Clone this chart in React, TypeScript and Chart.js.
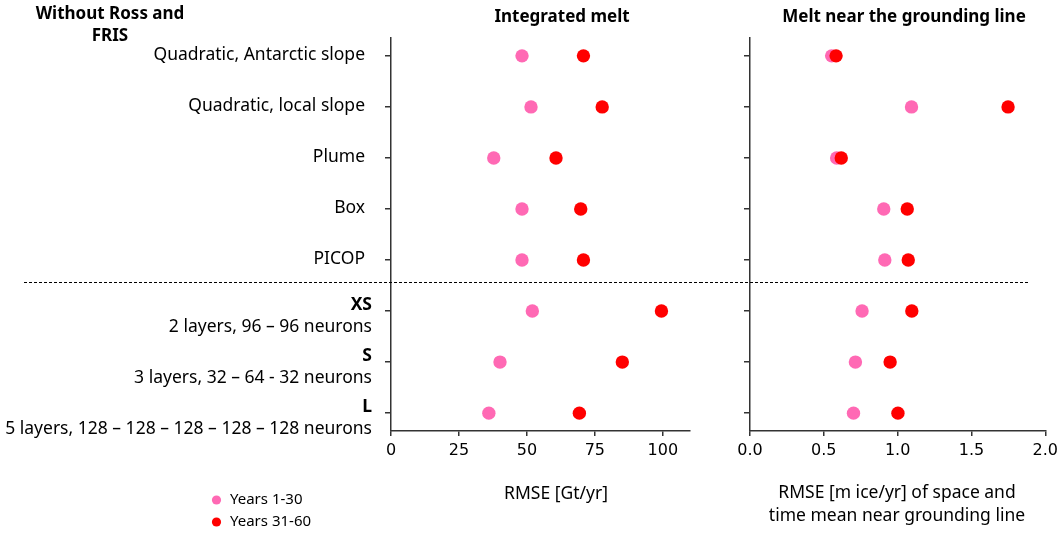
import React, { useEffect, useRef } from 'react';
import { Chart, registerables } from 'chart.js';

Chart.register(...registerables);

// ---------- data ----------
const rowBold = ['', '', '', '', '', 'XS', 'S', 'L'];
const rowLabels = [
  'Quadratic, Antarctic slope',
  'Quadratic, local slope',
  'Plume',
  'Box',
  'PICOP',
  '2 layers, 96 – 96 neurons',
  '3 layers, 32 – 64 - 32 neurons',
  '5 layers, 128 – 128 – 128 – 128 – 128 neurons',
];
const seriesNames = ['Years 1-30', 'Years 31-60'];
const meltEarly = [48.2, 51.5, 37.8, 48.2, 48.2, 52.0, 40.1, 36.0];
const meltLate = [70.8, 77.7, 60.7, 69.8, 70.8, 99.5, 85.1, 69.3];
const glEarly = [0.553, 1.094, 0.587, 0.906, 0.913, 0.759, 0.714, 0.701];
const glLate = [0.583, 1.748, 0.618, 1.065, 1.072, 1.096, 0.949, 1.002];
const meltTicks = [0, 25, 50, 75, 100];
const glTicks = [0, 0.5, 1.0, 1.5, 2.0];
const separatorAt = 4.43;
const groupHeading = ['Without Ross and', 'FRIS'];
const leftTitle = 'Integrated melt';
const rightTitle = 'Melt near the grounding line';
const leftAxisTitle = ['RMSE [Gt/yr]'];
const rightAxisTitle = ['RMSE [m ice/yr] of space and', 'time mean near grounding line'];

// ---------- styles ----------
const PINK = '#ff69b4';
const RED = '#ff0000';
const AXIS = '#333333';
const SANS = '"Noto Sans", sans-serif';
const TICKFONT = '"DejaVu Sans", sans-serif';
const LABEL_SIZE = 17.5;
const BOLD_SIZE = 17;

function drawText(ctx: CanvasRenderingContext2D, str: string, x: number, y: number, font: string, align: CanvasTextAlign = 'center') {
  ctx.save();
  ctx.font = font;
  ctx.fillStyle = '#000';
  ctx.textAlign = align;
  ctx.textBaseline = 'middle';
  ctx.fillText(str, x, y);
  ctx.restore();
}

function dashed(chart: any, x0: number, x1: number) {
  const ctx = chart.ctx as CanvasRenderingContext2D;
  const y = Math.round(chart.scales.y.getPixelForValue(separatorAt)) + 0.5;
  ctx.save();
  ctx.strokeStyle = '#000';
  ctx.lineWidth = 1;
  ctx.setLineDash([3, 2]);
  ctx.beginPath();
  ctx.moveTo(x0, y);
  ctx.lineTo(x1, y);
  ctx.stroke();
  ctx.restore();
}

function makeDatasets(early: number[], late: number[]) {
  return [
    {
      label: seriesNames[1],
      data: late.map((x, i) => ({ x, y: i })),
      backgroundColor: RED,
      borderWidth: 0,
      pointRadius: 6.7,
      order: 0,
    },
    {
      label: seriesNames[0],
      data: early.map((x, i) => ({ x, y: i })),
      backgroundColor: PINK,
      borderWidth: 0,
      pointRadius: 6.7,
      order: 1,
    },
  ];
}

function yScale(width: number) {
  return {
    type: 'linear',
    reverse: true,
    min: -0.35,
    max: 7.35,
    afterBuildTicks: (s: any) => {
      s.ticks = rowLabels.map((_, i) => ({ value: i }));
    },
    afterFit: (s: any) => {
      s.width = width;
    },
    ticks: { display: false },
    grid: { display: true, drawOnChartArea: false, drawTicks: true, tickLength: 6, color: AXIS, lineWidth: 1.5 },
    border: { display: true, color: AXIS, width: 1.5 },
  };
}

function xScale(max: number, ticks: number[], fmt: (v: number) => string) {
  return {
    type: 'linear',
    min: 0,
    max,
    afterBuildTicks: (s: any) => {
      s.ticks = ticks.map((v) => ({ value: v }));
    },
    afterFit: (s: any) => {
      s.height = 102;
    },
    ticks: {
      font: { family: TICKFONT, size: 16 },
      color: '#000',
      padding: 5,
      maxRotation: 0,
      autoSkip: false,
      callback: (v: any) => fmt(Number(v)),
    },
    grid: { display: true, drawOnChartArea: false, drawTicks: true, tickLength: 5, color: AXIS, lineWidth: 1.5 },
    border: { display: true, color: AXIS, width: 1.5 },
  };
}

const leftDecor = {
  id: 'leftDecor',
  afterDraw(chart: any) {
    const ctx = chart.ctx as CanvasRenderingContext2D;
    const ys = chart.scales.y;
    const normal = `${LABEL_SIZE}px ${SANS}`;
    const boldLbl = `bold ${LABEL_SIZE}px ${SANS}`;
    const bold = `bold ${BOLD_SIZE}px ${SANS}`;
    rowLabels.forEach((lab, i) => {
      const y = ys.getPixelForValue(i);
      if (rowBold[i]) {
        drawText(ctx, rowBold[i], 372, y - 6, boldLbl, 'right');
        drawText(ctx, lab, 372, y + 16, normal, 'right');
      } else {
        drawText(ctx, lab, 365, y - 1, normal, 'right');
      }
    });
    drawText(ctx, groupHeading[0], 110, 14, bold);
    drawText(ctx, groupHeading[1], 110, 36, bold);
    drawText(ctx, leftTitle, 562, 17, bold);
    leftAxisTitle.forEach((t, k) => drawText(ctx, t, 556, 494 + k * 23, normal));
    // legend
    const ds = [...chart.data.datasets].sort(
      (a: any, b: any) => seriesNames.indexOf(a.label) - seriesNames.indexOf(b.label)
    );
    ds.forEach((d: any, k: number) => {
      const y = 500 + k * 22;
      ctx.save();
      ctx.fillStyle = d.backgroundColor;
      ctx.beginPath();
      ctx.arc(216.5, y, 4.6, 0, Math.PI * 2);
      ctx.fill();
      ctx.restore();
      drawText(ctx, d.label, 230, y, `15px ${SANS}`, 'left');
    });
    dashed(chart, 24, chart.width);
  },
};

const rightDecor = {
  id: 'rightDecor',
  afterDraw(chart: any) {
    const ctx = chart.ctx as CanvasRenderingContext2D;
    const normal = `${LABEL_SIZE}px ${SANS}`;
    const bold = `bold ${BOLD_SIZE}px ${SANS}`;
    drawText(ctx, rightTitle, 204, 17, bold);
    rightAxisTitle.forEach((t, k) => drawText(ctx, t, 197, 493 + k * 23, normal));
    dashed(chart, 0, 328);
  },
};

function baseOptions(x: any, yWidth: number, padRight: number) {
  return {
    responsive: false,
    animation: false,
    devicePixelRatio: 1,
    events: [],
    layout: { padding: { left: 0, top: 38, right: padRight, bottom: 0 } },
    plugins: { legend: { display: false }, tooltip: { enabled: false }, title: { display: false } },
    scales: { x, y: yScale(yWidth) },
  };
}

export default function App() {
  const leftRef = useRef<HTMLCanvasElement>(null);
  const rightRef = useRef<HTMLCanvasElement>(null);

  useEffect(() => {
    const c1 = new Chart(leftRef.current!, {
      type: 'scatter',
      data: { datasets: makeDatasets(meltEarly, meltLate) as any },
      options: baseOptions(xScale(110, meltTicks, (v) => String(v)), 391, 10) as any,
      plugins: [leftDecor],
    });
    const c2 = new Chart(rightRef.current!, {
      type: 'scatter',
      data: { datasets: makeDatasets(glEarly, glLate) as any },
      options: baseOptions(xScale(2, glTicks, (v) => v.toFixed(1)), 50, 15) as any,
      plugins: [rightDecor],
    });
    return () => {
      c1.destroy();
      c2.destroy();
    };
  }, []);

  return (
    <div style={{ position: 'absolute', left: 0, top: 0, width: 1063, height: 533, background: '#fff' }}>
      <canvas
        ref={leftRef}
        width={700}
        height={533}
        style={{ position: 'absolute', left: 0, top: 0, width: 700, height: 533 }}
      />
      <canvas
        ref={rightRef}
        width={363}
        height={533}
        style={{ position: 'absolute', left: 700, top: 0, width: 363, height: 533 }}
      />
    </div>
  );
}
